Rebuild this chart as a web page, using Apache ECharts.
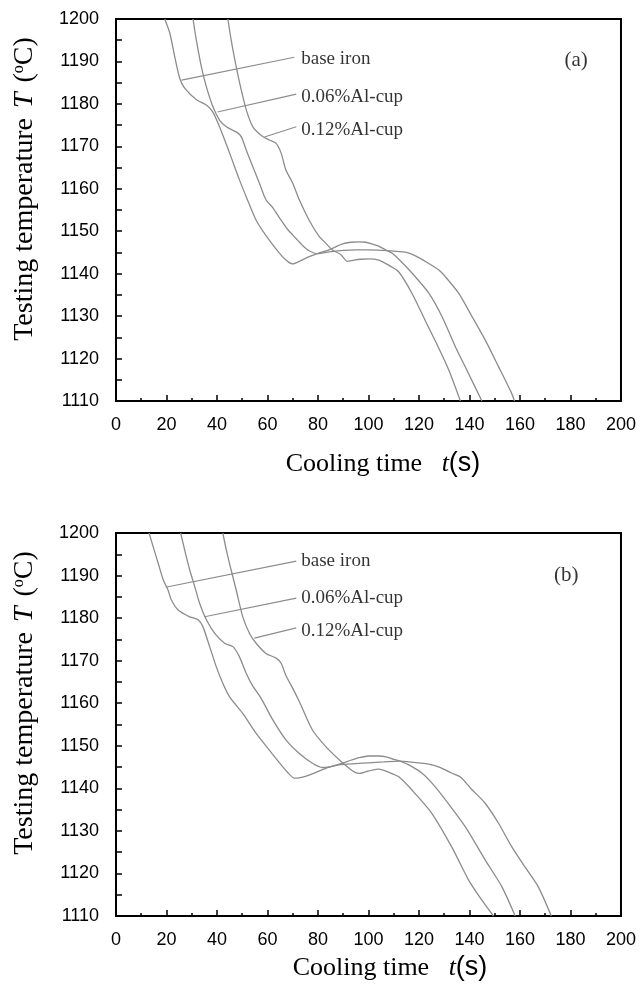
<!DOCTYPE html>
<html>
<head>
<meta charset="utf-8">
<script src="https://cdn.jsdelivr.net/npm/echarts@6/dist/echarts.min.js"></script>
<style>
html,body{margin:0;padding:0;background:#fff;}
#chart{width:639px;height:987px;}
</style>
</head>
<body>
<div id="chart"></div>
<script>
// ---------- Data ----------
const xTicks = [0, 20, 40, 60, 80, 100, 120, 140, 160, 180, 200];
const yTicks = [1110, 1120, 1130, 1140, 1150, 1160, 1170, 1180, 1190, 1200];
const seriesNames = ['base iron', '0.06%Al-cup', '0.12%Al-cup'];

// Panel (a)
const aBaseT = [19.3, 21.3, 23.3, 25.2, 27.2, 32.0, 35.9, 38.3, 41.0, 45.0, 48.9, 52.0, 55.5, 60.7, 65.9, 68.6, 70.0, 73.0, 76.5, 80.5, 84.4, 89.7, 93.0, 96.3, 99.0, 101.4, 104.0, 106.8, 109.4, 113.0, 117.3, 123.9, 129.1, 134.4, 139.6, 144.9];
const aBaseV = [1200, 1196.7, 1191.0, 1186.1, 1183.7, 1180.9, 1179.7, 1178.1, 1174.6, 1168.4, 1162.1, 1157.5, 1152.6, 1147.9, 1144.0, 1142.6, 1142.3, 1143.0, 1144.0, 1144.9, 1145.6, 1147.0, 1147.4, 1147.5, 1147.4, 1147.0, 1146.5, 1145.6, 1144.8, 1142.8, 1140.1, 1135.4, 1129.9, 1122.8, 1116.5, 1110];
const a006T = [30.5, 31.8, 33.8, 35.8, 38.4, 41.0, 43.7, 47.6, 49.6, 51.6, 54.2, 56.8, 59.4, 62.0, 64.7, 68.0, 71.3, 74.0, 76.5, 79.8, 85.1, 90.0, 95.0, 100.0, 105.0, 110.0, 115.0, 118.6, 123.9, 127.8, 130.4, 135.7, 141.0, 146.2, 151.5, 156.7, 157.8];
const a006V = [1200, 1195.1, 1188.8, 1184.0, 1179.3, 1176.2, 1174.6, 1173.4, 1172.3, 1169.1, 1165.2, 1161.3, 1157.4, 1155.6, 1153.2, 1150.4, 1148.3, 1146.6, 1145.4, 1144.7, 1145.2, 1145.5, 1145.6, 1145.6, 1145.5, 1145.3, 1145.0, 1144.2, 1142.4, 1140.9, 1139.3, 1135.4, 1129.9, 1124.4, 1118.1, 1111.8, 1110];
const a012T = [44.3, 45.6, 47.6, 49.6, 51.6, 54.2, 58.1, 60.7, 63.4, 65.4, 67.3, 70.0, 72.6, 76.5, 80.5, 82.4, 85.7, 89.0, 91.6, 94.3, 97.0, 100.0, 104.1, 108.0, 112.0, 117.2, 122.6, 127.8, 131.8, 136.4];
const a012V = [1200, 1195.1, 1188.8, 1183.3, 1178.6, 1174.6, 1172.3, 1171.5, 1170.7, 1168.4, 1164.4, 1161.3, 1157.4, 1152.6, 1148.7, 1147.6, 1145.6, 1144.5, 1142.9, 1143.2, 1143.4, 1143.5, 1143.2, 1142.0, 1140.4, 1135.4, 1128.8, 1122.5, 1117.3, 1110];

// Panel (b)
const bBaseT = [13.1, 14.7, 16.7, 18.7, 20.6, 21.9, 24.6, 29.2, 32.5, 34.4, 37.1, 39.7, 42.3, 45.0, 50.2, 55.5, 60.7, 66.0, 68.5, 70.6, 73.5, 76.5, 83.1, 89.7, 93.0, 96.3, 100.0, 104.0, 107.0, 110.0, 113.0, 116.0, 121.1, 125.5, 130.5, 138.3, 146.2, 152.8, 158.1];
const bBaseV = [1200, 1196.8, 1192.9, 1189.0, 1186.6, 1184.3, 1181.9, 1180.3, 1179.6, 1178.0, 1173.3, 1168.6, 1164.7, 1161.5, 1157.6, 1152.9, 1149.0, 1145.1, 1143.4, 1142.4, 1142.6, 1143.1, 1144.7, 1145.9, 1146.6, 1147.2, 1147.6, 1147.6, 1147.4, 1146.8, 1146.3, 1145.5, 1143.6, 1141.0, 1137.3, 1131.0, 1123.2, 1116.9, 1110];
const b006T = [25.6, 27.2, 29.2, 31.2, 33.1, 35.8, 39.1, 43.0, 46.3, 48.9, 51.6, 54.2, 56.8, 58.1, 62.1, 67.3, 72.6, 77.8, 81.8, 85.0, 88.4, 95.0, 100.0, 106.0, 112.0, 118.0, 123.9, 128.0, 132.9, 136.5, 140.8, 146.2, 151.5, 156.7, 161.9, 167.2, 172.4];
const b006V = [1200, 1196.0, 1191.3, 1187.4, 1183.5, 1179.6, 1176.4, 1174.1, 1173.3, 1170.9, 1167.0, 1164.0, 1161.8, 1160.5, 1156.1, 1151.4, 1148.2, 1145.9, 1144.9, 1145.1, 1145.5, 1145.8, 1146.0, 1146.2, 1146.4, 1146.1, 1145.7, 1145.0, 1143.6, 1142.6, 1139.8, 1136.5, 1131.8, 1126.3, 1121.6, 1116.9, 1110];
const b012T = [42.3, 43.7, 45.6, 47.6, 50.2, 52.9, 55.5, 59.4, 63.4, 65.4, 67.3, 70.0, 72.6, 77.8, 83.1, 88.4, 92.3, 94.5, 96.3, 99.0, 101.5, 104.1, 108.0, 112.0, 117.2, 125.0, 132.9, 139.6, 144.0, 149.5];
const b012V = [1200, 1196.0, 1191.3, 1186.6, 1180.3, 1176.4, 1174.1, 1171.7, 1170.6, 1169.4, 1166.5, 1163.5, 1160.4, 1153.7, 1149.8, 1146.7, 1144.7, 1143.8, 1143.5, 1143.9, 1144.3, 1144.5, 1143.8, 1142.7, 1139.6, 1134.2, 1126.3, 1118.5, 1114.5, 1110];

// Annotation leader lines (data coords: [label end, curve end])
const aLeaderT = [[70.6, 26.0], [71.4, 40.2], [71.4, 58.8]];
const aLeaderV = [[1191.0, 1185.6], [1182.3, 1178.1], [1174.6, 1172.2]];
const aLabelV = [1190.6, 1181.6, 1173.8];
const bLeaderT = [[71.4, 20.1], [71.4, 35.1], [71.4, 54.8]];
const bLeaderV = [[1193.4, 1187.3], [1184.7, 1180.3], [1177.7, 1175.3]];
const bLabelV = [1193.4, 1184.7, 1177.0];
const labelT = 71.4;
const panelTags = ['(a)', '(b)'];
const panelTagT = [182.2, 178.3];
const panelTagV = [1190.3, 1190.1];

// ---------- Build chart ----------
const zip = (t, v) => t.map((x, i) => [x, v[i]]);
const CURVE = '#8c8c8c';
const SANS = '"Liberation Sans", Arial, sans-serif';
const SERIF = '"Liberation Serif", "Times New Roman", serif';

const grids = [
  {left: 116, top: 19, width: 507, height: 382},
  {left: 116, top: 533, width: 507, height: 383}
].map(g => Object.assign(g, {show: true, borderColor: '#000', borderWidth: 2, backgroundColor: '#fff'}));

function xAx(i, margin) {
  return {
    gridIndex: i, type: 'value', min: xTicks[0], max: xTicks[xTicks.length - 1], interval: 20,
    axisLine: {show: true, onZero: false, lineStyle: {color: '#000', width: 2}},
    axisTick: {show: true, inside: true, length: 6, lineStyle: {color: '#000', width: 1.5}},
    minorTick: {show: true, splitNumber: 2, length: 3, lineStyle: {color: '#000', width: 1.5}},
    splitLine: {show: false},
    axisLabel: {color: '#000', fontFamily: SANS, fontSize: 18, margin: margin}
  };
}
function yAx(i) {
  return {
    gridIndex: i, type: 'value', min: yTicks[0], max: yTicks[yTicks.length - 1], interval: 5,
    axisLine: {show: true, onZero: false, lineStyle: {color: '#000', width: 2}},
    axisTick: {show: true, inside: true, length: 6, lineStyle: {color: '#000', width: 1.5}},
    splitLine: {show: false},
    axisLabel: {color: '#000', fontFamily: SANS, fontSize: 18, margin: 17,
      formatter: v => (yTicks.indexOf(v) >= 0 ? String(v) : '')}
  };
}

const series = [];
const panels = [
  {curves: [[aBaseT, aBaseV], [a006T, a006V], [a012T, a012V]], lt: aLeaderT, lv: aLeaderV, labV: aLabelV},
  {curves: [[bBaseT, bBaseV], [b006T, b006V], [b012T, b012V]], lt: bLeaderT, lv: bLeaderV, labV: bLabelV}
];
panels.forEach((p, pi) => {
  p.curves.forEach((c, ci) => {
    series.push({
      name: seriesNames[ci], type: 'line', xAxisIndex: pi, yAxisIndex: pi,
      data: zip(c[0], c[1]), showSymbol: false, symbol: 'none', smooth: 0.25,
      lineStyle: {color: CURVE, width: 1.3}, silent: true, clip: true, animation: false
    });
    series.push({
      type: 'line', xAxisIndex: pi, yAxisIndex: pi,
      data: zip(p.lt[ci], p.lv[ci]), showSymbol: false, symbol: 'none',
      lineStyle: {color: CURVE, width: 1.1}, silent: true, animation: false
    });
  });
  series.push({
    type: 'scatter', xAxisIndex: pi, yAxisIndex: pi, symbolSize: 0, silent: true, animation: false,
    data: p.labV.map((v, k) => ({value: [labelT, v], name: seriesNames[k]})),
    label: {show: true, position: 'right', distance: 5, formatter: d => d.name,
      fontFamily: SERIF, fontSize: 19, color: '#000'}
  });
  series.push({
    type: 'scatter', xAxisIndex: pi, yAxisIndex: pi, symbolSize: 0, silent: true, animation: false,
    data: [{value: [panelTagT[pi], panelTagV[pi]], name: panelTags[pi]}],
    label: {show: true, position: 'inside', formatter: d => d.name,
      fontFamily: SERIF, fontSize: 21, color: '#000'}
  });
});

function yTitle(cx, cy) {
  return {
    type: 'text', x: cx, y: cy, rotation: Math.PI / 2, silent: true,
    style: {
      text: 'Testing temperature {it|T} ({sup|o}C)',
      fontFamily: SERIF, fontSize: 28, fill: '#000', align: 'center', verticalAlign: 'middle',
      rich: {
        it: {fontFamily: SERIF, fontSize: 28, fontStyle: 'italic', padding: [0, 3, 0, 3]},
        sup: {fontFamily: SERIF, fontSize: 16, verticalAlign: 'top', padding: [0, 0, 10, 0]}
      }
    }
  };
}
function xTitle(cx, cy) {
  return {
    type: 'text', x: cx, y: cy, silent: true,
    style: {
      text: 'Cooling time   {it|t}{ss|(s)}',
      fontFamily: SERIF, fontSize: 26, fill: '#000', align: 'center', verticalAlign: 'middle',
      rich: {
        it: {fontFamily: SERIF, fontSize: 26, fontStyle: 'italic'},
        ss: {fontFamily: SANS, fontSize: 27}
      }
    }
  };
}

const chart = echarts.init(document.getElementById('chart'), null, {renderer: 'canvas'});
chart.setOption({
  animation: false,
  backgroundColor: '#fff',
  grid: grids,
  xAxis: [xAx(0, 15), xAx(1, 15)],
  yAxis: [yAx(0), yAx(1)],
  series: series,
  graphic: [yTitle(25, 189), yTitle(25, 703), xTitle(383, 464), xTitle(390, 968)]
});
</script>
</body>
</html>
